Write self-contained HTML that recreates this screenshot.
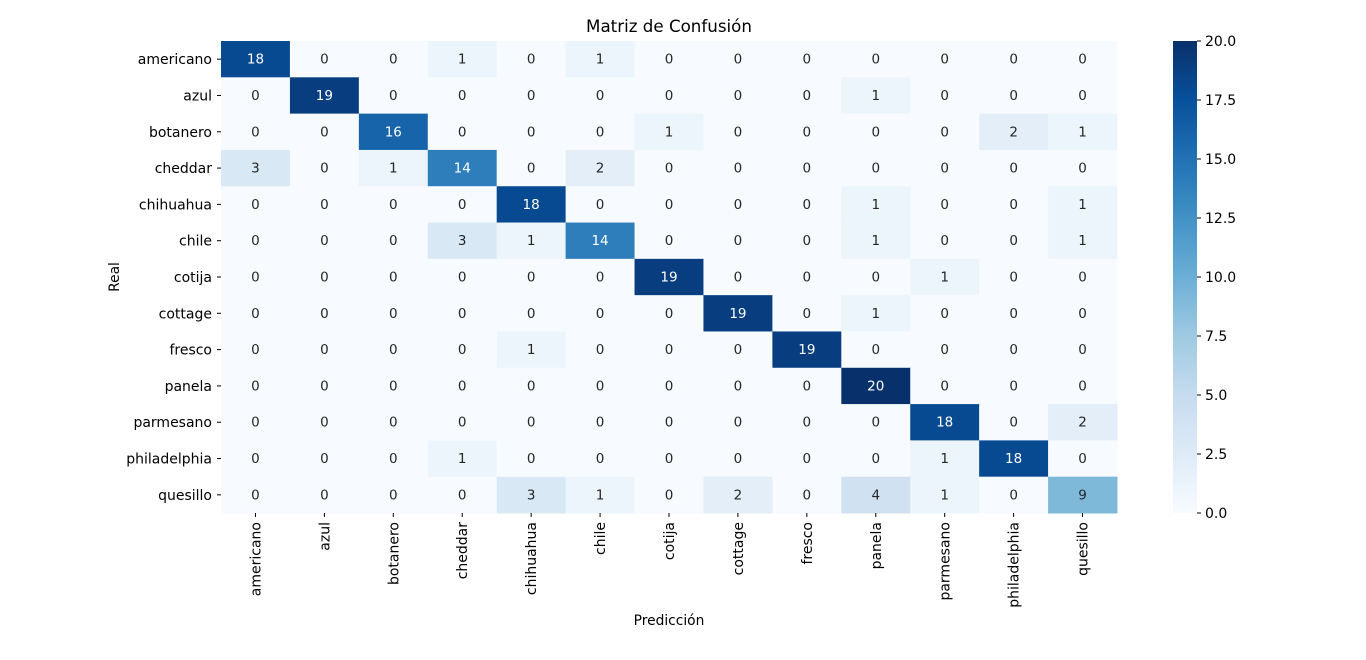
<!DOCTYPE html>
<html><head><meta charset="utf-8"><style>
body{margin:0;background:#fff;}
svg{font-family:"DejaVu Sans","Liberation Sans",sans-serif;}
</style></head><body>
<svg id="chart" width="1366" height="655" xmlns="http://www.w3.org/2000/svg">
<defs><linearGradient id="cbg" x1="0" y1="1" x2="0" y2="0">
<stop offset="0" stop-color="#f7fbff"/><stop offset="0.125" stop-color="#deebf7"/><stop offset="0.25" stop-color="#c6dbef"/><stop offset="0.375" stop-color="#9ecae1"/><stop offset="0.5" stop-color="#6baed6"/><stop offset="0.625" stop-color="#4292c6"/><stop offset="0.75" stop-color="#2171b5"/><stop offset="0.875" stop-color="#08519c"/><stop offset="1" stop-color="#08306b"/>
</linearGradient></defs>
<text x="669" y="32" font-size="16.7" text-anchor="middle">Matriz de Confusión</text>
<text x="669" y="625" font-size="13.8" text-anchor="middle">Predicción</text>
<text transform="translate(119,277) rotate(-90)" font-size="13.8" text-anchor="middle">Real</text>
<g id="cells"></g>
<rect x="1173" y="41" width="24" height="472" fill="url(#cbg)"/>
<g id="cbticks"></g>
</svg>
<script>
const labels=["americano","azul","botanero","cheddar","chihuahua","chile","cotija","cottage","fresco","panela","parmesano","philadelphia","quesillo"];
const matrix=[
[18,0,0,1,0,1,0,0,0,0,0,0,0],
[0,19,0,0,0,0,0,0,0,1,0,0,0],
[0,0,16,0,0,0,1,0,0,0,0,2,1],
[3,0,1,14,0,2,0,0,0,0,0,0,0],
[0,0,0,0,18,0,0,0,0,1,0,0,1],
[0,0,0,3,1,14,0,0,0,1,0,0,1],
[0,0,0,0,0,0,19,0,0,0,1,0,0],
[0,0,0,0,0,0,0,19,0,1,0,0,0],
[0,0,0,0,1,0,0,0,19,0,0,0,0],
[0,0,0,0,0,0,0,0,0,20,0,0,0],
[0,0,0,0,0,0,0,0,0,0,18,0,2],
[0,0,0,1,0,0,0,0,0,0,1,18,0],
[0,0,0,0,3,1,0,2,0,4,1,0,9]];
const cbTicks=[0,2.5,5,7.5,10,12.5,15,17.5,20];
const vmin=0,vmax=20;
const X0=221,X1=1117,Y0=41,Y1=513;
const cw=(X1-X0)/labels.length, ch=(Y1-Y0)/labels.length;
const xs=i=>X0+i*cw, ys=i=>Y0+i*ch;
const cbY=v=>Y1-(v-vmin)/(vmax-vmin)*(Y1-Y0);
const stops=[[247,251,255],[222,235,247],[198,219,239],[158,202,225],[107,174,214],[66,146,198],[33,113,181],[8,81,156],[8,48,107]];
function color(v){let t=(v-vmin)/(vmax-vmin)*8;let i=Math.min(7,Math.floor(t));let f=t-i;const a=stops[i],b=stops[i+1];return `rgb(${a.map((c,k)=>Math.round(c+(b[k]-c)*f)).join(',')})`;}
const NS="http://www.w3.org/2000/svg";
const g=document.getElementById('cells');
function mk(tag,attrs,parent){const e=document.createElementNS(NS,tag);for(const k in attrs)e.setAttribute(k,attrs[k]);parent.appendChild(e);return e;}
matrix.forEach((row,r)=>row.forEach((v,c)=>{
 const rect=mk('rect',{x:xs(c),y:ys(r),width:cw+0.5,height:ch+0.5,fill:color(v)},g);
 
 
 const t=mk('text',{x:xs(c)+cw/2,y:ys(r)+ch/2+4.5,'font-size':13.5,'text-anchor':'middle',fill:v>10?'#fff':'#262626'},g);
 t.textContent=v;
 
 
}));
labels.forEach((l,i)=>{
 const y=ys(i)+ch/2;
 mk('line',{x1:X0-4,x2:X0,y1:y,y2:y,stroke:'#000'},g);
 const t=mk('text',{x:X0-9,y:y+5,'font-size':14,'text-anchor':'end'},g);t.textContent=l;
 
 
 const x=xs(i)+cw/2;
 mk('line',{x1:x,x2:x,y1:Y1,y2:Y1+4,stroke:'#000'},g);
 const t2=mk('text',{transform:`translate(${x+5},${Y1+9}) rotate(-90)`,'font-size':14,'text-anchor':'end'},g);t2.textContent=l;
 
 
});
const cb=document.getElementById('cbticks');
cbTicks.forEach(v=>{
 const y=cbY(v);
 mk('line',{x1:1197,x2:1201,y1:y,y2:y,stroke:'#000'},cb);
 const t=mk('text',{x:1205,y:y+5,'font-size':14},cb);t.textContent=v.toFixed(1);
 
 
});
</script>
</body></html>
